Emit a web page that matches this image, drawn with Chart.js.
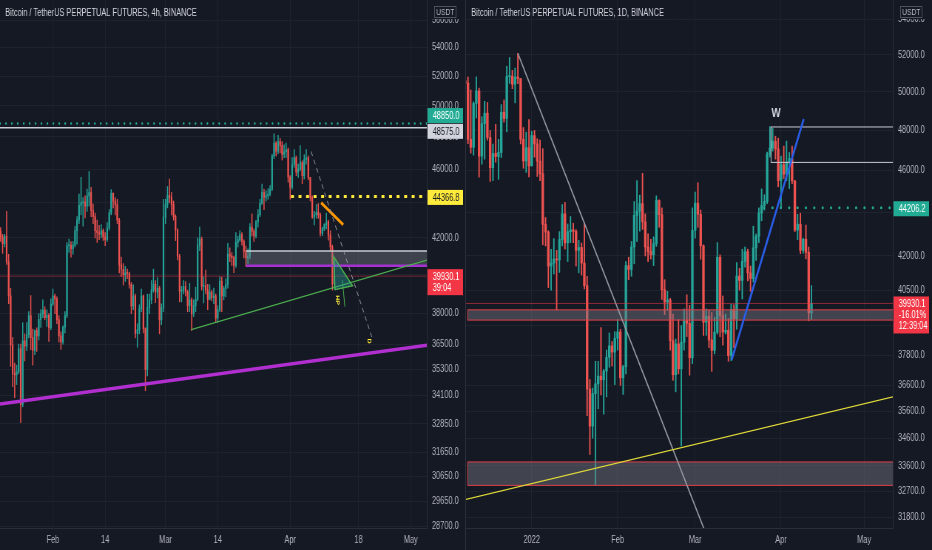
<!DOCTYPE html>
<html>
<head>
<meta charset="utf-8">
<title>BTCUSDT perpetual 4h / 1D</title>
<script src="https://cdn.jsdelivr.net/npm/chart.js@4.4.1/dist/chart.umd.min.js"></script>
<style>
  html, body { margin: 0; width: 932px; height: 550px; overflow: hidden; background: #151924; }
  /* the screenshot is squeezed horizontally, so each pane is drawn wider and squeezed back */
  .pane { position: absolute; top: 0; width: 630px; height: 550px; transform: scaleX(0.73968); transform-origin: 0 0; }
  #paneL { left: 0; }
  #paneR { left: 466px; }
  #split { position: absolute; left: 465px; top: 0; width: 1px; height: 550px; background: #2a2e39; }
</style>
</head>
<body>
<div class="pane" id="paneL"><canvas id="leftChart" width="630" height="550"></canvas></div>
<div class="pane" id="paneR"><canvas id="rightChart" width="630" height="550"></canvas></div>
<div id="split"></div>
<script>
// days are counted from 1 Jan 2022 (day 0)

// ---- left pane: 4h chart, drawn here as 12h candles from 19 Jan
const leftStartDay = 18;
const leftStep = 0.5;
const leftOpen0 = 42380;
const leftHigh = [
  42580,42200, 42200,43500, 41100,39300, 36830,35600, 35500,36500, 36500,37550, 37000,37550, 38100,38920, 37230,37200, 37300,38000, 38200,38700, 38350,38200, 38000,38750,
  39260,39000, 38850,37900, 37100,37390, 38100,41750, 41940,41800, 41800,42650, 43200,44500, 45500,44300, 44400,44800, 45850,44900, 43920,43400, 43000,42700, 42750,42500, 42300,42860,
  43600,44770, 44580,44300, 44200,43100, 40950,40600, 40450,40300, 40150,39600, 39480,39000, 37500,38450, 39250,38950, 37300,39000, 39000,39700, 40300,39700, 39850,39400, 38500,44200,
  44200,44950, 45400,44600, 44100,43300, 42500,41100, 39400,39700, 39650,39200, 39550,38800, 38700,39350, 42000,42600, 42050,39900, 40250,39500, 39480,39200, 39300,39000, 38400,39900,
  39880,39400, 39800,41700, 41450,41200, 41000,42300, 42100,42400, 42300,41900, 41550,41400, 42800,43350, 42500,42990, 43600,44200, 45100,44800, 44700,44820, 45000,46900, 48190,47700,
  48100,47900, 47700,47500, 47600,47300,
  45600,46700, 47200,46800, 46300,47450, 46500,46880, 47200,46800, 45500,44400, 43500,43900, 43950,43400, 42600,42800, 43400,43000, 42400,41600, 40700
];
const leftLow = [
  41800,41150, 41500,40550, 38500,35440, 34500,34010, 34600,35100, 32900,33600, 35700,36200, 36800,36230, 35500,36000, 36150,36700, 37310,37800, 37700,37360, 36630,37200,
  38400,38000, 37500,36600, 36250,36500, 37050,37800, 41200,40950, 41100,41500, 41650,42800, 43300,42650, 43120,43500, 43800,43200, 42800,42000, 41750,41900, 42000,41860, 41570,41800,
  42430,43300, 43700,43300, 42800,40100, 39900,39460, 39650,39800, 39300,38000, 38200,36800, 36350,37000, 38100,37050, 34320,35000, 38000,38500, 39100,38550, 38800,37000, 37450,38100,
  42800,43700, 44000,43300, 43000,41850, 40800,38600, 38600,39000, 38900,38100, 38100,37150, 37850,38100, 38650,41300, 39200,38540, 39000,38200, 38700,38650, 38500,37550, 37570,38100,
  38100,38700, 38850,39300, 40700,40500, 40120,40400, 41500,41800, 41600,40900, 40450,40600, 40850,42100, 41800,42000, 42600,43200, 43900,43600, 44100,44200, 44400,44700, 46650,46800,
  46950,47000, 46550,46700, 46700,45200,
  44200,44800, 46100,45600, 45500,45900, 45120,45400, 46300,45350, 44100,43100, 42730,43100, 43100,42100, 42120,42400, 42500,41870, 41300,39200, 39250
];
const leftClose = [
  42050,41680, 42100,40690, 38900,36460, 35100,35050, 35200,36280, 33700,36660, 36400,36960, 37900,36820, 36200,37160, 36900,37710, 38000,38170, 37800,37920, 37300,38480,
  38900,38740, 37700,36900, 36600,37330, 37900,41570, 41600,41400, 41600,42400, 43000,43850, 44000,44050, 43800,44400, 44600,43550, 43200,42400, 42300,42200, 42400,42050, 41900,42550,
  43400,44550, 44100,43880, 43000,40520, 40300,39990, 40100,40080, 39500,38380, 38900,37020, 37200,38250, 38900,37250, 35300,38320, 38700,39210, 39500,39100, 39300,37690, 38300,43160,
  43900,44420, 44300,43900, 43200,42450, 41000,39140, 39200,39390, 39100,38410, 38700,37990, 38400,38730, 41600,41940, 39400,39420, 39200,38730, 39100,38810, 38900,37780, 38200,39670,
  38900,39280, 39500,41110, 41000,40920, 40500,41760, 41900,42190, 41800,41250, 40900,41000, 42600,42360, 42100,42890, 43300,43960, 44600,44310, 44400,44500, 44800,46800, 47600,47100,
  47700,47450, 46900,47060, 47200,45510,
  44900,46280, 46700,45810, 46000,46400, 45600,46580, 46700,45490, 44300,43170, 43300,43440, 43300,42250, 42500,42750, 42900,42160, 41500,39530, 39930
];
const leftTickDays = [31, 44, 59, 72, 90, 107, 120];
const leftTickLabels = ['Feb', '14', 'Mar', '14', 'Apr', '18', 'May'];
const leftPriceTicks = [56000, 54000, 52000, 50000, 48000, 46000, 44000, 42000, 40000, 38000, 36500, 35300, 34100, 32850, 31650, 30650, 29650, 28700];

// ---- right pane: daily candles from 8 Dec 2021
const rightStartDay = -24;
const rightOpen0 = 50590;
const rightHigh = [
  51200,50800,50100,49480,50800,50200,48700,49500,49440,47990,47300,48300,47540,49330,49570,51380,51860,51160,51280,52090,50710,48140,47900,48550,
  47950,47990,47570,47500,47070,43750,43140,42300,42780,42250,43100,44350,44460,43450,43800,43480,43190,42700,42580,43500,41100,36830,36500,37550,37550,38920,37230,38000,38700,38350,38750,
  39260,38850,37390,41750,41940,42650,44500,45500,44800,45850,43920,43000,42750,42860,44770,44580,44200,40950,40450,40150,39480,38450,39250,39000,39700,40300,39850,44200,
  44950,45400,44100,42500,39700,39650,39550,39350,42600,42050,40250,39480,39300,39900,39880,41700,41450,42300,42400,42300,41550,43350,42990,44200,45100,44820,46900,48190,48100,47700,47600,
  46700,47200,47450,46880,47200,45500,43900,43950,42800,43400,42400,40700
];
const rightLow = [
  48600,47320,46850,46750,48640,45670,46300,46550,47500,45460,45500,46400,45560,46630,48420,47920,50450,50170,49420,50440,47310,46100,45900,45680,
  46210,46650,45700,45500,42500,42450,40610,40500,41200,39650,41270,42450,42310,41750,42600,42600,41550,41250,41150,40550,35440,34010,34600,32900,35700,36230,35500,36150,37310,37360,36630,
  38000,36600,36250,37050,40950,41100,41650,42650,43120,43200,42000,41750,41860,41570,42430,43300,40100,39460,39650,38000,36800,36350,37050,34320,38000,38550,37000,37450,
  42800,43300,41850,38600,38600,38100,37150,37850,38650,38540,38200,38650,37550,37570,38100,38850,40500,40120,41500,40900,40450,40850,41800,42600,43600,44100,44400,46650,46950,46550,45200,
  44200,45600,45500,45120,45350,43100,42730,42100,42120,41870,39200,39250
];
const rightClose = [
  50470,47540,47140,49390,50050,46700,48340,48880,47630,46130,46830,46680,46880,48930,48610,50820,50840,50410,50800,50710,47540,46460,47120,46220,
  47730,47310,46450,45830,43430,43080,41550,41680,41860,41820,42740,43920,42590,43100,43180,43110,42250,42380,41680,40690,36460,35050,36280,36660,36960,36820,37160,37710,38170,37920,38480,
  38740,36900,37330,41570,41400,42400,43850,44050,44400,43550,42400,42200,42050,42550,44550,43880,40520,39990,40080,38380,37020,38250,37250,38320,39210,39100,37690,43160,
  44420,43900,42450,39140,39390,38410,37990,38730,41940,39420,38730,38810,37780,39670,39280,41110,40920,41760,42190,41250,41000,42360,42890,43960,44310,44500,46800,47100,47450,47060,45510,
  46280,45810,46400,46580,45490,43170,43440,42250,42750,42160,39530,39930
];
const rightTickDays = [0, 31, 59, 90, 120];
const rightTickLabels = ['2022', 'Feb', 'Mar', 'Apr', 'May'];
const rightPriceTicks = [54000, 52000, 50000, 48000, 46000, 44000, 42000, 40500, 39000, 37800, 36600, 35600, 34600, 33600, 32700, 31800];

const lastPrice = 39930.1;

// ---- drawings (day, price)
const leftGreenLevel = 48850;
const leftWhiteLevel = 48575;
const leftYellowLevel = 44366.8;
const leftYellowFrom = 90.2;
const leftZone = { from: 79.06, top: 41280, bottom: 40480 };
const leftGreenTrend = [[65.4, 37210], [124, 40790]];
const leftPurpleTrend = [[17.85, 33720], [124, 36450]];
const leftOrangeTrend = [[97.7, 44000], [103.2, 42740]];
const leftDashedPath = [[95.2, 47080], [110.5, 36730]];
const leftTriangle = [[100.8, 40970], [101.15, 39220], [105.5, 39430]];
const leftTriangleTail = [[103.0, 39720], [103.6, 38350]];
const leftNotes = [['HP', 101.8, 38690], ['D', 109.7, 36650]];

const rightGrayTrend = [[-5, 52090], [63.75, 31060]];
const rightYellowTrend = [[-24, 32420], [130.4, 36160]];
const rightBlueTrend = [[72.2, 37610], [98.2, 48580]];
const rightTopBox = { from: 86.4, top: 48170, bottom: 46390 };
const rightGreenLevel = 44206.2;
const rightGreenFrom = 83.9;
const rightZoneA = { from: -23.1, top: 39660, bottom: 39230 };
const rightZoneB = { from: -23.1, top: 33740, bottom: 32910 };
const rightWMark = [88.2, 48880];

const UP = '#26a69a';
const DOWN = '#ef5350';
const BG = '#151924';
const FONT = '"Liberation Sans", Arial, sans-serif';
Chart.defaults.font.family = FONT;

function buildCandles(start, step, open0, high, low, close, bodyW, wickW) {
  const wicks = [], bodies = [], cols = [];
  let open = open0;
  close.forEach((c, i) => {
    const x = start + i * step;
    wicks.push({ x, y: [low[i], high[i]] });
    bodies.push({ x, y: [open, c] });
    cols.push(c >= open ? UP : DOWN);
    open = c;
  });
  return [
    { data: wicks, backgroundColor: cols, barThickness: wickW, grouped: false, borderWidth: 0 },
    { data: bodies, backgroundColor: cols, barThickness: bodyW, minBarLength: 1, grouped: false, borderWidth: 0 }
  ];
}

function paneOptions(xMin, xMax, yMin, yMax, tickDays, tickLabels, priceTicks) {
  return {
    responsive: false,
    animation: false,
    events: [],
    layout: { padding: 0 },
    plugins: { legend: { display: false }, tooltip: { enabled: false } },
    scales: {
      x: {
        type: 'linear', min: xMin, max: xMax, offset: false,
        afterBuildTicks: s => { s.ticks = tickDays.map(v => ({ value: v })); },
        afterFit: s => { s.height = 22; s.paddingLeft = 0; s.paddingRight = 0; },
        ticks: { callback: v => tickLabels[tickDays.indexOf(v)] ?? '', color: '#b2b5be', font: { size: 10 }, maxRotation: 0, autoSkip: false, padding: 6 },
        grid: { color: '#1f2330', drawTicks: false, offset: false },
        border: { color: '#2a2e39' }
      },
      y: {
        type: 'logarithmic', position: 'right', min: yMin, max: yMax,
        afterBuildTicks: s => { s.ticks = priceTicks.map(v => ({ value: v })); },
        afterFit: s => { s.width = 53; s.paddingTop = 0; s.paddingBottom = 0; },
        ticks: { callback: v => Number(v).toFixed(1), color: '#b2b5be', font: { size: 10 }, autoSkip: false, padding: 7 },
        grid: { color: '#1f2330', drawTicks: false },
        border: { color: '#2a2e39' }
      }
    }
  };
}

function seg(ch, a, b, color, width, dash, cap) {
  const c = ch.ctx, x = ch.scales.x, y = ch.scales.y;
  c.beginPath();
  c.setLineDash(dash || []);
  c.lineCap = cap || 'butt';
  c.strokeStyle = color;
  c.lineWidth = width;
  c.moveTo(x.getPixelForValue(a[0]), y.getPixelForValue(a[1]));
  c.lineTo(x.getPixelForValue(b[0]), y.getPixelForValue(b[1]));
  c.stroke();
  c.setLineDash([]);
}

function box(ch, z, fill, stroke) {
  const c = ch.ctx, x = ch.scales.x, y = ch.scales.y;
  const x0 = x.getPixelForValue(z.from), x1 = x.getPixelForValue(x.max);
  const y0 = y.getPixelForValue(z.top), y1 = y.getPixelForValue(z.bottom);
  if (fill) { c.fillStyle = fill; c.fillRect(x0, y0, x1 - x0, y1 - y0); }
  if (stroke) { c.strokeStyle = stroke; c.lineWidth = 1; c.strokeRect(x0, y0, x1 - x0 + 2, y1 - y0); }
}

function clipArea(ch) {
  const a = ch.chartArea, c = ch.ctx;
  c.save();
  c.beginPath();
  c.rect(a.left, a.top, a.right - a.left, a.bottom - a.top);
  c.clip();
}

function tag(ch, top, lines, bg, fg) {
  const c = ch.ctx, x0 = ch.chartArea.right + 1, w = ch.width - x0 - 4;
  c.fillStyle = bg;
  c.fillRect(x0, top, w, 4 + lines.length * 11);
  c.fillStyle = fg;
  c.font = '10px ' + FONT;
  c.textAlign = 'left';
  c.textBaseline = 'middle';
  lines.forEach((t, i) => c.fillText(t, x0 + 7, top + 8 + i * 11));
}

function header(ch, title) {
  const c = ch.ctx, ax = ch.chartArea.right;
  c.fillStyle = '#d1d4dc';
  c.font = '10px ' + FONT;
  c.textAlign = 'left';
  c.textBaseline = 'middle';
  c.fillText(title, 7, 13);
  c.fillStyle = BG;
  c.fillRect(ax + 1, 0, ch.width - ax - 1, 19);
  c.strokeStyle = '#50535e';
  c.lineWidth = 1;
  c.strokeRect(ax + 10.5, 6.5, 29, 11);
  c.fillStyle = '#b2b5be';
  c.font = '9px ' + FONT;
  c.textAlign = 'center';
  c.fillText('USDT', ax + 25, 12.5);
}

function paintBg(ch) {
  const c = ch.ctx;
  c.save();
  c.fillStyle = BG;
  c.fillRect(0, 0, ch.width, ch.height);
  c.restore();
}

const leftDecor = {
  id: 'leftDecor',
  beforeDraw: paintBg,
  afterDatasetsDraw(ch) {
    const x = ch.scales.x, y = ch.scales.y, c = ch.ctx;
    clipArea(ch);
    box(ch, leftZone, 'rgba(120,123,134,0.42)', null);
    seg(ch, [leftZone.from, leftZone.top], [x.max, leftZone.top], '#c9ccd4', 1.5);
    seg(ch, [leftZone.from, leftZone.bottom], [x.max, leftZone.bottom], '#a332d0', 2.5);
    seg(ch, [x.min, lastPrice], [x.max, lastPrice], 'rgba(242,54,69,0.45)', 1);
    seg(ch, [x.min, leftWhiteLevel], [x.max, leftWhiteLevel], '#c9ccd4', 1.5);
    seg(ch, [x.min, leftGreenLevel], [x.max, leftGreenLevel], '#22ab94', 2.4, [0.01, 8], 'round');
    seg(ch, [leftYellowFrom, leftYellowLevel], [x.max, leftYellowLevel], '#ffeb3b', 3, [4, 6.2]);
    seg(ch, leftGreenTrend[0], leftGreenTrend[1], '#4caf50', 1.2);
    seg(ch, leftPurpleTrend[0], leftPurpleTrend[1], '#b12fcf', 3.5);
    seg(ch, leftOrangeTrend[0], leftOrangeTrend[1], '#ff9800', 3);
    seg(ch, leftDashedPath[0], leftDashedPath[1], '#9598a1', 1, [5, 4]);
    seg(ch, leftTriangleTail[0], leftTriangleTail[1], '#4caf50', 1);
    c.beginPath();
    leftTriangle.forEach((p, i) => {
      const px = x.getPixelForValue(p[0]), py = y.getPixelForValue(p[1]);
      if (i) c.lineTo(px, py); else c.moveTo(px, py);
    });
    c.closePath();
    c.fillStyle = 'rgba(38,166,154,0.4)';
    c.fill();
    c.strokeStyle = '#4caf50';
    c.lineWidth = 1.5;
    c.stroke();
    c.fillStyle = '#ffeb3b';
    c.font = 'bold 7px ' + FONT;
    c.textAlign = 'center';
    c.textBaseline = 'middle';
    leftNotes.forEach(n => {
      c.save();
      c.translate(x.getPixelForValue(n[1]), y.getPixelForValue(n[2]));
      c.rotate(Math.PI / 2);
      c.fillText(n[0], 0, 0);
      c.restore();
    });
    c.restore();
  },
  afterDraw(ch) {
    const y = ch.scales.y;
    header(ch, 'Bitcoin / TetherUS PERPETUAL FUTURES, 4h, BINANCE');
    tag(ch, y.getPixelForValue(leftGreenLevel) - 15.5, [leftGreenLevel.toFixed(1)], '#22ab94', '#ffffff');
    tag(ch, y.getPixelForValue(leftWhiteLevel) - 4, [leftWhiteLevel.toFixed(1)], '#d1d4dc', '#131722');
    tag(ch, y.getPixelForValue(leftYellowLevel) - 6.5, [leftYellowLevel.toFixed(1)], '#ffeb3b', '#131722');
    tag(ch, y.getPixelForValue(lastPrice) - 7, [lastPrice.toFixed(1), '39:04'], '#f23645', '#ffffff');
  }
};

const rightDecor = {
  id: 'rightDecor',
  beforeDraw: paintBg,
  afterDatasetsDraw(ch) {
    const x = ch.scales.x, c = ch.ctx;
    clipArea(ch);
    box(ch, rightZoneA, 'rgba(120,123,134,0.45)', '#e0404a');
    box(ch, rightZoneB, 'rgba(120,123,134,0.45)', '#e0404a');
    seg(ch, [x.min, lastPrice], [x.max, lastPrice], 'rgba(242,54,69,0.55)', 1);
    box(ch, rightTopBox, null, '#c9ccd4');
    seg(ch, [rightGreenFrom, rightGreenLevel], [x.max, rightGreenLevel], '#22ab94', 3, [0.01, 11.3], 'round');
    seg(ch, rightGrayTrend[0], rightGrayTrend[1], '#9598a1', 1.6);
    seg(ch, rightYellowTrend[0], rightYellowTrend[1], '#e2d93a', 1.2);
    seg(ch, rightBlueTrend[0], rightBlueTrend[1], '#2a5ee8', 2.6);
    c.fillStyle = '#d1d4dc';
    c.font = 'bold 13px ' + FONT;
    c.textAlign = 'center';
    c.textBaseline = 'middle';
    c.fillText('W', x.getPixelForValue(rightWMark[0]), ch.scales.y.getPixelForValue(rightWMark[1]));
    c.restore();
  },
  afterDraw(ch) {
    const y = ch.scales.y;
    header(ch, 'Bitcoin / TetherUS PERPETUAL FUTURES, 1D, BINANCE');
    tag(ch, y.getPixelForValue(rightGreenLevel) - 6.5, [rightGreenLevel.toFixed(1)], '#22ab94', '#ffffff');
    tag(ch, y.getPixelForValue(lastPrice) - 7, [lastPrice.toFixed(1), '-16.01%', '12:39:04'], '#f23645', '#ffffff');
  }
};

new Chart(document.getElementById('leftChart'), {
  type: 'bar',
  data: { datasets: buildCandles(leftStartDay, leftStep, leftOpen0, leftHigh, leftLow, leftClose, 1.5, 0.8) },
  options: paneOptions(17.85, 123.98, 28628, 57512, leftTickDays, leftTickLabels, leftPriceTicks),
  plugins: [leftDecor]
});

new Chart(document.getElementById('rightChart'), {
  type: 'bar',
  data: { datasets: buildCandles(rightStartDay, 1, rightOpen0, rightHigh, rightLow, rightClose, 2.7, 1.2) },
  options: paneOptions(-23.72, 130.36, 31452, 55130, rightTickDays, rightTickLabels, rightPriceTicks),
  plugins: [rightDecor]
});
</script>
</body>
</html>
